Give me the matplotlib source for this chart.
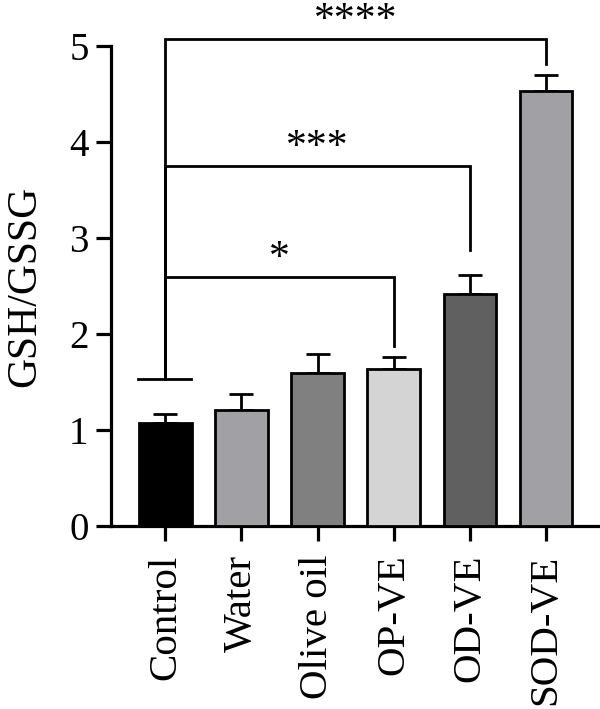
import matplotlib.pyplot as plt
import numpy as np

groups = ["Control", "Water", "Olive oil", "OP-VE", "OD-VE", "SOD-VE"]
means = [1.07, 1.21, 1.59, 1.64, 2.42, 4.53]
errors = [0.10, 0.17, 0.205, 0.125, 0.20, 0.17]
bar_colors = ["#000000", "#a0a0a5", "#808080", "#d4d4d4", "#606060", "#a0a0a5"]

# significance brackets vs Control
pairs = [(0, 3), (0, 4), (0, 5)]
bracket_tops = [2.59, 3.75, 5.07]
bracket_drops = [1.875, 2.88, 4.81]
stars = ["*", "***", "****"]
control_base = 1.53

plt.rcParams["font.family"] = ["Liberation Serif", "DejaVu Serif"]

fig = plt.figure(figsize=(6.0, 7.09), dpi=100)
ax = fig.add_axes([0.1857, 0.258, 0.8143, 0.677])

x = np.arange(len(groups))
lw = 2.0
ax.bar(x, means, width=0.69, color=bar_colors, edgecolor="black", linewidth=lw, zorder=3)
ax.errorbar(x, means, yerr=[np.zeros(len(errors)), errors], fmt="none", ecolor="black",
            elinewidth=lw, capsize=8.5, capthick=lw, zorder=2)

ax.plot([-0.36, 0.34], [control_base, control_base], color="black", lw=lw, clip_on=False)
for (a, b), top, drop, label in zip(pairs, bracket_tops, bracket_drops, stars):
    ax.plot([a, a, b, b], [control_base, top, top, drop], color="black", lw=lw,
            clip_on=False, solid_joinstyle="miter")
    ax.text((a + b) / 2, top - 0.01, label, ha="center", va="bottom", fontsize=30, clip_on=False)

ax.set_xlim(-0.709, 5.71)
ax.set_ylim(0, 5)
ax.set_yticks(range(6))
ax.set_xticks(x)
ax.set_xticklabels(groups, rotation=90)
ax.set_ylabel("GSH/GSSG", fontsize=30, labelpad=18)

for side in ["top", "right"]:
    ax.spines[side].set_visible(False)
ax.spines["left"].set_linewidth(2.3)
ax.spines["bottom"].set_linewidth(2.3)
ax.tick_params(axis="both", width=2.3, length=10.5)
ax.tick_params(axis="y", labelsize=28, pad=6)
ax.tick_params(axis="x", labelsize=29.5, pad=10)

fig.savefig("out.png", dpi=100)
